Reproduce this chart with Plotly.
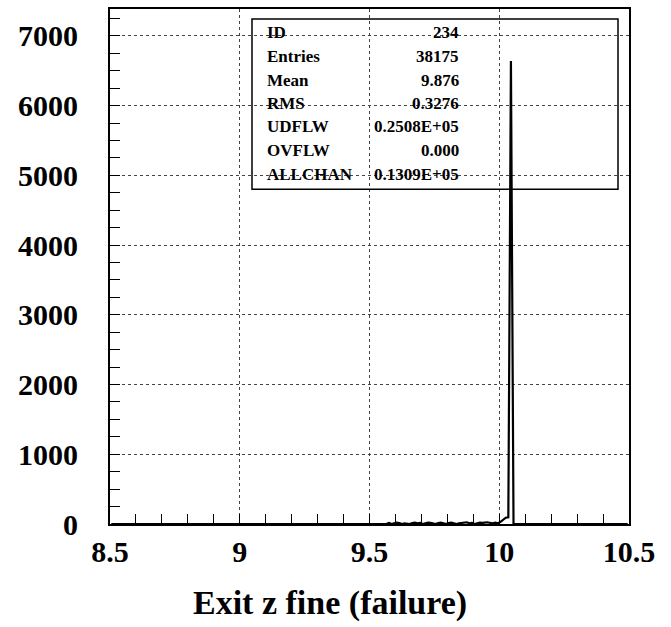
import plotly.graph_objects as go

# Histogram bin centres (bin width 0.01) and contents
bin_x = [8.505, 9.545, 9.555, 9.565, 9.575, 9.585, 9.595, 9.605, 9.615, 9.625, 9.635,
         9.645, 9.655, 9.665, 9.675, 9.685, 9.695, 9.705, 9.715, 9.725, 9.735,
         9.745, 9.755, 9.765, 9.775, 9.785, 9.795, 9.805, 9.815, 9.825, 9.835,
         9.845, 9.855, 9.865, 9.875, 9.885, 9.895, 9.905, 9.915, 9.925, 9.935,
         9.945, 9.955, 9.965, 9.975, 9.985, 9.995, 10.005, 10.015, 10.025, 10.035,
         10.045, 10.055, 10.495]
bin_y = [0, 0, 10, 0, 15, 0, 10, 20, 15, 0, 10,
         0, 0, 15, 20, 10, 15, 0, 10, 20, 15,
         10, 0, 15, 20, 10, 0, 15, 20, 10, 0,
         10, 15, 20, 25, 10, 15, 0, 10, 20, 15,
         20, 25, 15, 10, 20, 10, 30, 60, 90, 95,
         6640, 0, 0]

x_ticks = [8.5, 9, 9.5, 10, 10.5]
x_tick_labels = ["8.5", "9", "9.5", "10", "10.5"]
y_ticks = [0, 1000, 2000, 3000, 4000, 5000, 6000, 7000]
y_tick_labels = ["0", "1000", "2000", "3000", "4000", "5000", "6000", "7000"]

stat_names = ["ID", "Entries", "Mean", "RMS", "UDFLW", "OVFLW", "ALLCHAN"]
stat_values = ["234", "38175", "9.876", "0.3276", "0.2508E+05", "0.000", "0.1309E+05"]

x_title = "Exit z fine (failure)"

FONT = "Liberation Serif"
W, H = 671, 627
L, R, T, B = 110, 629, 7, 524

fig = go.Figure()
fig.add_trace(go.Scatter(x=bin_x, y=bin_y, mode="lines",
                         line=dict(color="black", width=2.2),
                         hoverinfo="skip", showlegend=False))

axis_common = dict(
    showline=True, linecolor="black", linewidth=2, mirror=True,
    ticks="inside", ticklen=10, tickcolor="black", tickwidth=1,
    showgrid=True, gridcolor="#444444", gridwidth=1, griddash="dot",
    zeroline=False,
    tickfont=dict(family=FONT, size=30, color="black", weight="bold"),
)

fig.update_xaxes(range=[8.5, 10.5], tickvals=x_ticks, ticktext=x_tick_labels,
                 minor=dict(dtick=0.1, tick0=8.5, ticks="inside", ticklen=10,
                            tickcolor="black", showgrid=False),
                 ticklabelstandoff=0, **axis_common)
fig.update_yaxes(range=[0, 7386], tickvals=y_ticks, ticktext=y_tick_labels,
                 minor=dict(dtick=250, tick0=0, ticks="inside", ticklen=10,
                            tickcolor="black", showgrid=False),
                 ticklabelstandoff=24, **axis_common)

pw, ph = R - L, B - T
def px(x):
    return (x - L) / pw
def py(y):
    return (B - y) / ph

# stats box
fig.add_shape(type="rect", xref="paper", yref="paper",
              x0=px(252), x1=px(618), y0=py(188), y1=py(17),
              line=dict(color="black", width=1.5), fillcolor="rgba(0,0,0,0)")

row_y = [31, 55, 79, 102, 125, 149, 173]
for name, val, yy in zip(stat_names, stat_values, row_y):
    fig.add_annotation(x=px(265), y=py(yy), xref="paper", yref="paper",
                       text=name, showarrow=False, xanchor="left", yanchor="middle",
                       font=dict(family=FONT, size=17, color="black", weight="bold"))
    fig.add_annotation(x=px(461), y=py(yy), xref="paper", yref="paper",
                       text=val, showarrow=False, xanchor="right", yanchor="middle",
                       font=dict(family=FONT, size=17, color="black", weight="bold"))

fig.add_annotation(x=px(330), y=py(603), xref="paper", yref="paper",
                   text=x_title, showarrow=False, xanchor="center", yanchor="middle",
                   font=dict(family=FONT, size=34, color="black", weight="bold"))

fig.update_layout(width=W, height=H,
                  margin=dict(l=L, r=W - R, t=T, b=H - B),
                  paper_bgcolor="white", plot_bgcolor="white",
                  font=dict(family=FONT, color="black"))

fig.write_html("out.html", config={"displayModeBar": False},
               post_script="document.body.style.margin='0';document.body.style.padding='0';")
